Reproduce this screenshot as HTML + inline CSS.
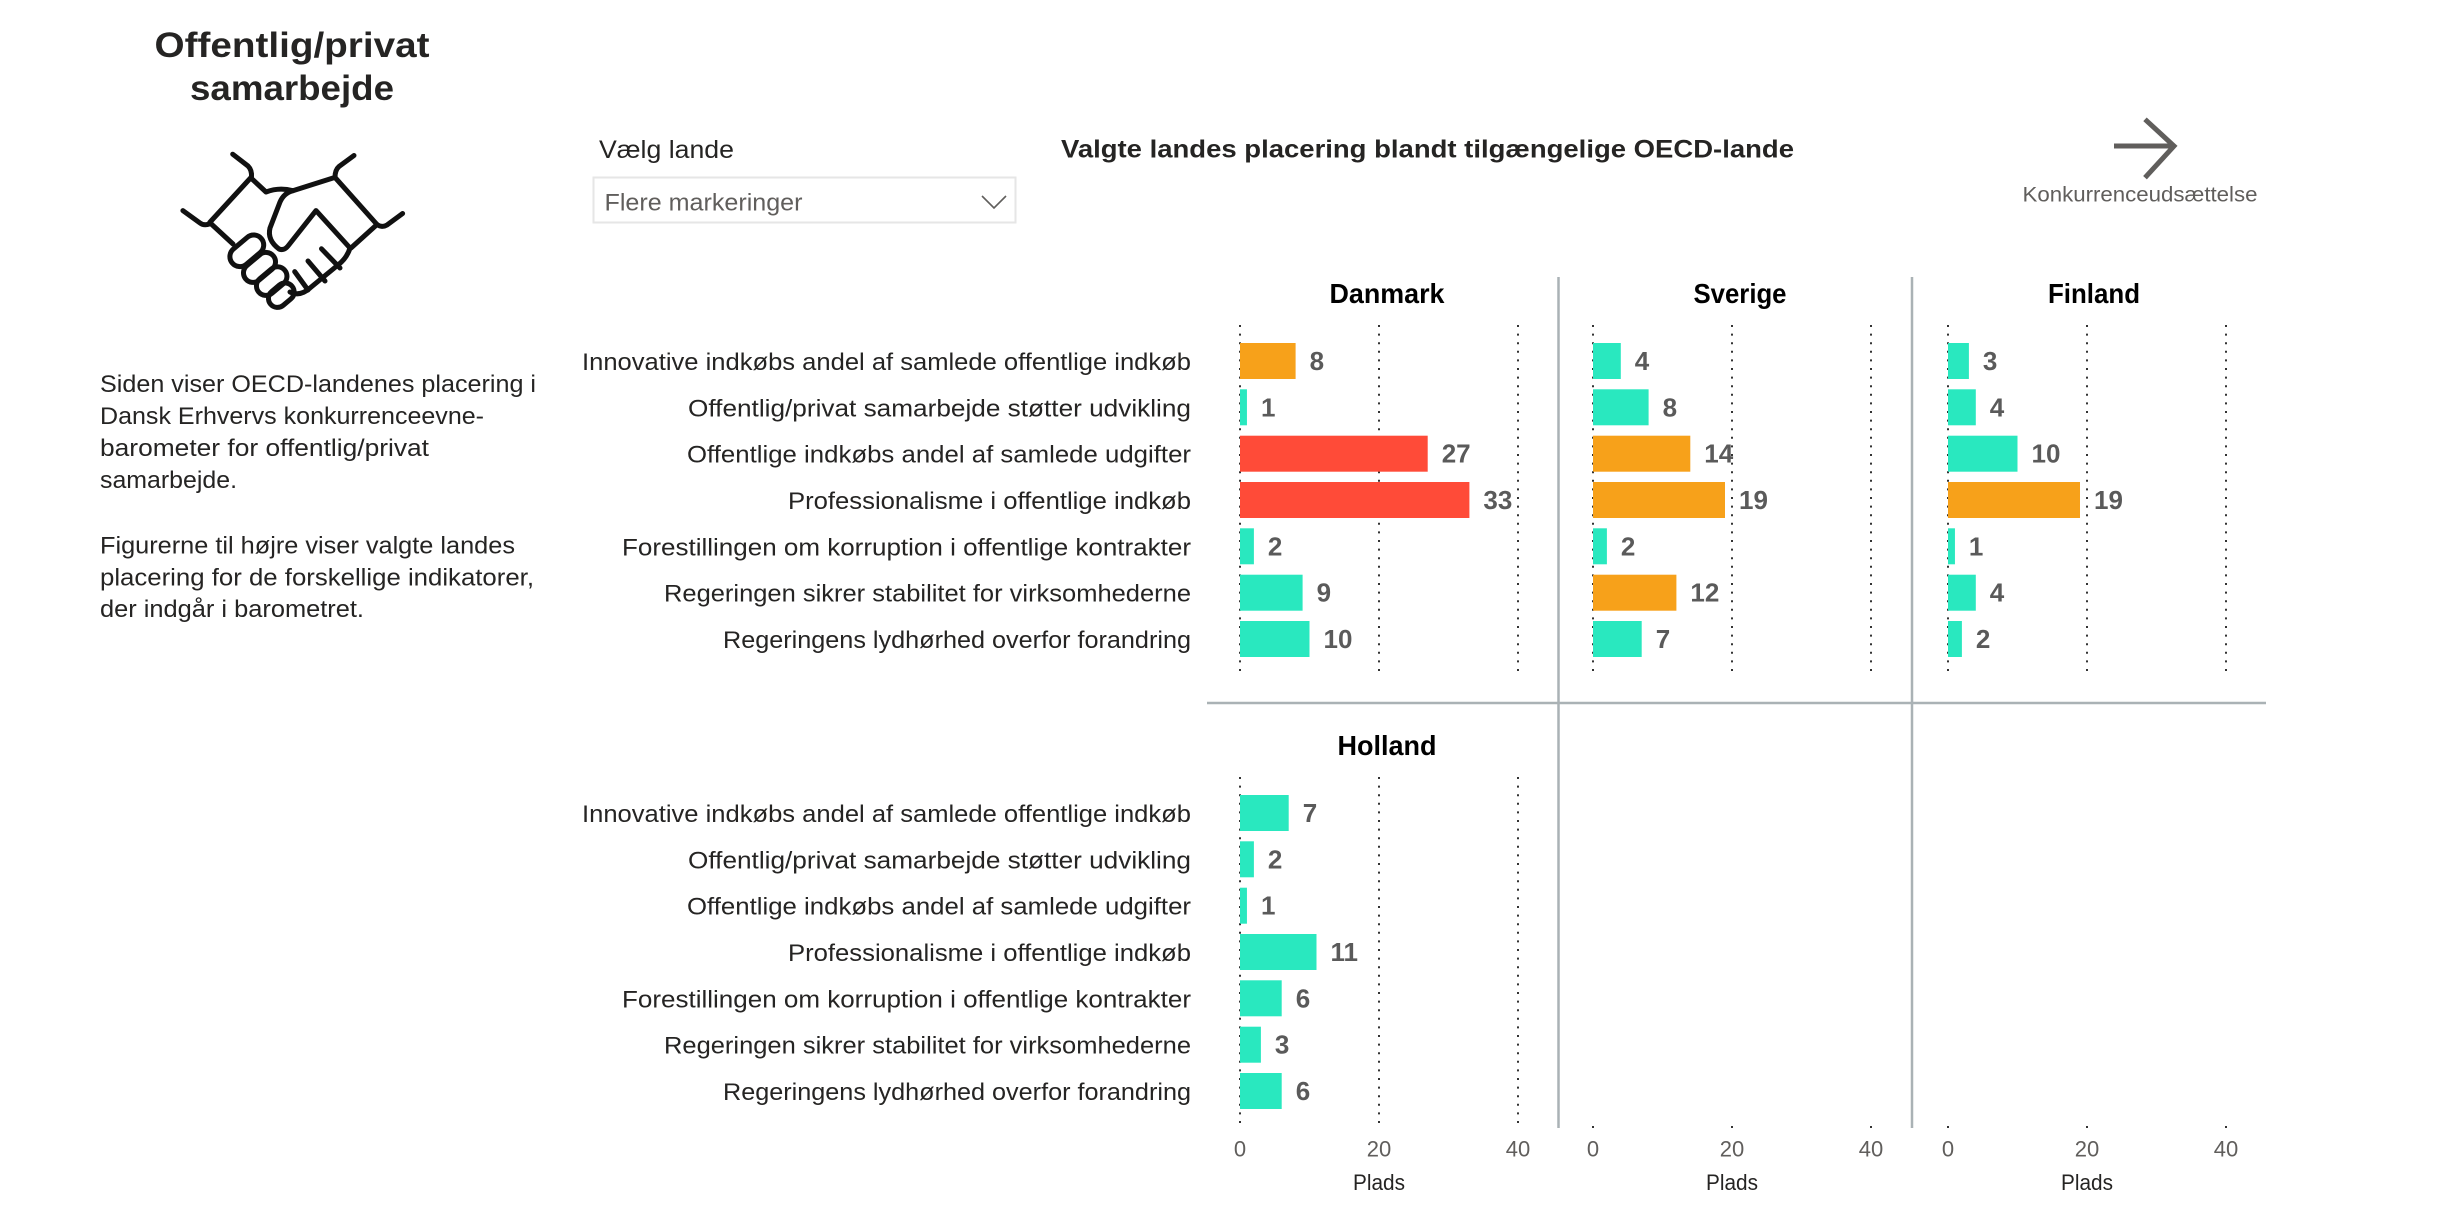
<!DOCTYPE html>
<html><head><meta charset="utf-8"><style>
html,body{margin:0;padding:0;background:#fff;}
body{width:2449px;height:1212px;overflow:hidden;}
svg{display:block;}
</style></head><body>
<svg width="2449" height="1212" viewBox="0 0 2449 1212" xmlns="http://www.w3.org/2000/svg" font-family="'Liberation Sans', Arial, sans-serif">
<rect width="2449" height="1212" fill="#fff"/>

<!-- Left title -->
<text x="292" y="57" font-size="35" font-weight="bold" text-anchor="middle" fill="#252423" textLength="275" lengthAdjust="spacingAndGlyphs">Offentlig/privat</text>
<text x="292" y="100" font-size="35" font-weight="bold" text-anchor="middle" fill="#252423" textLength="204" lengthAdjust="spacingAndGlyphs">samarbejde</text>

<!-- Handshake icon -->
<g fill="none" stroke="#111" stroke-width="5" stroke-linecap="round" stroke-linejoin="round">
  <path d="M232.7,154.2 L248,166 Q252,170 251.5,177"/>
  <path d="M182.9,210.6 L200,223 Q204,226 209.7,223.9"/>
  <path d="M251,177.5 L209.7,222.5 L233,244"/>
  <path d="M354,155.5 L339,166.5 Q335,170 335,177.4"/>
  <path d="M402.6,213.5 L387,225 Q382,228 377,224.5"/>
  <path d="M335,177.4 L377,224.5 L351,248"/>
  <path d="M251,178 L266,192 Q279,187 292.8,190.7 L335,177.4"/>
  <path d="M292.8,190.7 Q284,193 280,202 L270,228 Q267,240 279,249 Q284,251 288,246 L316,210.6 L350,248"/>
  <path d="M350,248 Q347,258 338,265 L310,288 Q300,297 290,292"/>
  <path d="M321.5,248.8 L340,268"/>
  <path d="M308,261 L325,281"/>
  <path d="M294.7,271.6 L308,290"/>
  <rect x="-19" y="-10" width="38" height="20" rx="10" transform="translate(246.8,250.8) rotate(-40)"/>
  <rect x="-18" y="-9.5" width="36" height="19" rx="9.5" transform="translate(259.5,267.4) rotate(-40)"/>
  <rect x="-17" y="-9.5" width="34" height="19" rx="9.5" transform="translate(271.7,281.1) rotate(-40)"/>
  <rect x="-14" y="-9" width="28" height="18" rx="9" transform="translate(281.3,295.2) rotate(-40)"/>
</g>

<!-- Paragraph -->
<g font-size="24" fill="#252423">
  <text x="100" y="392" textLength="436" lengthAdjust="spacingAndGlyphs">Siden viser OECD-landenes placering i</text>
  <text x="100" y="424" textLength="384" lengthAdjust="spacingAndGlyphs">Dansk Erhvervs konkurrenceevne-</text>
  <text x="100" y="456" textLength="329" lengthAdjust="spacingAndGlyphs">barometer for offentlig/privat</text>
  <text x="100" y="488" textLength="137" lengthAdjust="spacingAndGlyphs">samarbejde.</text>
  <text x="100" y="553.5" textLength="415" lengthAdjust="spacingAndGlyphs">Figurerne til højre viser valgte landes</text>
  <text x="100" y="585.5" textLength="434" lengthAdjust="spacingAndGlyphs">placering for de forskellige indikatorer,</text>
  <text x="100" y="617" textLength="264" lengthAdjust="spacingAndGlyphs">der indgår i barometret.</text>
</g>

<!-- Slicer -->
<text x="599" y="158" font-size="25" fill="#252423" textLength="135" lengthAdjust="spacingAndGlyphs">Vælg lande</text>
<rect x="593.5" y="177.5" width="422" height="45" fill="#fff" stroke="#e6e6e6" stroke-width="2"/>
<text x="604.5" y="210.5" font-size="24" fill="#605e5c" textLength="198" lengthAdjust="spacingAndGlyphs">Flere markeringer</text>
<polyline points="982,196 994,208 1006,196" fill="none" stroke="#605e5c" stroke-width="1.6"/>

<!-- Main title -->
<text x="1061" y="157.5" font-size="25" font-weight="bold" fill="#252423" textLength="733" lengthAdjust="spacingAndGlyphs">Valgte landes placering blandt tilgængelige OECD-lande</text>

<!-- Arrow nav -->
<g stroke="#605e5c" stroke-width="5" fill="none" stroke-linecap="butt">
  <line x1="2114" y1="146" x2="2174" y2="146"/>
  <polyline points="2145,119.3 2174,146 2145,177.7"/>
</g>
<text x="2022.5" y="201.5" font-size="21" fill="#605e5c" textLength="235" lengthAdjust="spacingAndGlyphs">Konkurrenceudsættelse</text>

<!-- Dividers -->
<g stroke="#aab2b5" stroke-width="2.5">
  <line x1="1558.5" y1="277" x2="1558.5" y2="1128"/>
  <line x1="1912" y1="277" x2="1912" y2="1128"/>
  <line x1="1207" y1="703" x2="2266" y2="703"/>
</g>

<!-- Gridlines -->
<g stroke="#333" stroke-width="2" stroke-dasharray="2 6.6">
  <line x1="1240" y1="325" x2="1240" y2="674"/>
  <line x1="1379" y1="325" x2="1379" y2="674"/>
  <line x1="1518" y1="325" x2="1518" y2="674"/>
  <line x1="1593" y1="325" x2="1593" y2="674"/>
  <line x1="1732" y1="325" x2="1732" y2="674"/>
  <line x1="1871" y1="325" x2="1871" y2="674"/>
  <line x1="1948" y1="325" x2="1948" y2="674"/>
  <line x1="2087" y1="325" x2="2087" y2="674"/>
  <line x1="2226" y1="325" x2="2226" y2="674"/>
  <line x1="1240" y1="777" x2="1240" y2="1128"/>
  <line x1="1379" y1="777" x2="1379" y2="1128"/>
  <line x1="1518" y1="777" x2="1518" y2="1128"/>
</g>
<g fill="#333">
  <rect x="1592" y="1126" width="2" height="2"/>
  <rect x="1731" y="1126" width="2" height="2"/>
  <rect x="1870" y="1126" width="2" height="2"/>
  <rect x="1947" y="1126" width="2" height="2"/>
  <rect x="2086" y="1126" width="2" height="2"/>
  <rect x="2225" y="1126" width="2" height="2"/>
</g>

<!-- Panel titles -->
<g font-size="28" font-weight="bold" fill="#000" text-anchor="middle">
  <text x="1387" y="303" textLength="115" lengthAdjust="spacingAndGlyphs">Danmark</text>
  <text x="1740" y="303" textLength="93" lengthAdjust="spacingAndGlyphs">Sverige</text>
  <text x="2094" y="303" textLength="92" lengthAdjust="spacingAndGlyphs">Finland</text>
  <text x="1387" y="755" textLength="99" lengthAdjust="spacingAndGlyphs">Holland</text>
</g>

<!-- Category labels -->
<g font-size="24" fill="#252423" text-anchor="end">
  <text x="1191" y="370" textLength="609" lengthAdjust="spacingAndGlyphs">Innovative indkøbs andel af samlede offentlige indkøb</text>
  <text x="1191" y="416.3" textLength="503" lengthAdjust="spacingAndGlyphs">Offentlig/privat samarbejde støtter udvikling</text>
  <text x="1191" y="462.7" textLength="504" lengthAdjust="spacingAndGlyphs">Offentlige indkøbs andel af samlede udgifter</text>
  <text x="1191" y="509" textLength="403" lengthAdjust="spacingAndGlyphs">Professionalisme i offentlige indkøb</text>
  <text x="1191" y="555.3" textLength="569" lengthAdjust="spacingAndGlyphs">Forestillingen om korruption i offentlige kontrakter</text>
  <text x="1191" y="601.7" textLength="527" lengthAdjust="spacingAndGlyphs">Regeringen sikrer stabilitet for virksomhederne</text>
  <text x="1191" y="648" textLength="468" lengthAdjust="spacingAndGlyphs">Regeringens lydhørhed overfor forandring</text>
  <text x="1191" y="822" textLength="609" lengthAdjust="spacingAndGlyphs">Innovative indkøbs andel af samlede offentlige indkøb</text>
  <text x="1191" y="868.3" textLength="503" lengthAdjust="spacingAndGlyphs">Offentlig/privat samarbejde støtter udvikling</text>
  <text x="1191" y="914.7" textLength="504" lengthAdjust="spacingAndGlyphs">Offentlige indkøbs andel af samlede udgifter</text>
  <text x="1191" y="961" textLength="403" lengthAdjust="spacingAndGlyphs">Professionalisme i offentlige indkøb</text>
  <text x="1191" y="1007.3" textLength="569" lengthAdjust="spacingAndGlyphs">Forestillingen om korruption i offentlige kontrakter</text>
  <text x="1191" y="1053.7" textLength="527" lengthAdjust="spacingAndGlyphs">Regeringen sikrer stabilitet for virksomhederne</text>
  <text x="1191" y="1100" textLength="468" lengthAdjust="spacingAndGlyphs">Regeringens lydhørhed overfor forandring</text>
</g>

<!-- Bars: Danmark -->
<g>
  <rect x="1240" y="343" width="55.6" height="36" fill="#F7A11A"/>
  <rect x="1240" y="389.3" width="6.95" height="36" fill="#29E8BF"/>
  <rect x="1240" y="435.7" width="187.7" height="36" fill="#FF4B38"/>
  <rect x="1240" y="482" width="229.4" height="36" fill="#FF4B38"/>
  <rect x="1240" y="528.3" width="13.9" height="36" fill="#29E8BF"/>
  <rect x="1240" y="574.7" width="62.6" height="36" fill="#29E8BF"/>
  <rect x="1240" y="621" width="69.5" height="36" fill="#29E8BF"/>
</g>
<!-- Bars: Sverige -->
<g>
  <rect x="1593" y="343" width="27.8" height="36" fill="#29E8BF"/>
  <rect x="1593" y="389.3" width="55.6" height="36" fill="#29E8BF"/>
  <rect x="1593" y="435.7" width="97.3" height="36" fill="#F7A11A"/>
  <rect x="1593" y="482" width="132" height="36" fill="#F7A11A"/>
  <rect x="1593" y="528.3" width="13.9" height="36" fill="#29E8BF"/>
  <rect x="1593" y="574.7" width="83.4" height="36" fill="#F7A11A"/>
  <rect x="1593" y="621" width="48.7" height="36" fill="#29E8BF"/>
</g>
<!-- Bars: Finland -->
<g>
  <rect x="1948" y="343" width="20.9" height="36" fill="#29E8BF"/>
  <rect x="1948" y="389.3" width="27.8" height="36" fill="#29E8BF"/>
  <rect x="1948" y="435.7" width="69.5" height="36" fill="#29E8BF"/>
  <rect x="1948" y="482" width="132" height="36" fill="#F7A11A"/>
  <rect x="1948" y="528.3" width="6.95" height="36" fill="#29E8BF"/>
  <rect x="1948" y="574.7" width="27.8" height="36" fill="#29E8BF"/>
  <rect x="1948" y="621" width="13.9" height="36" fill="#29E8BF"/>
</g>
<!-- Bars: Holland -->
<g fill="#29E8BF">
  <rect x="1240" y="795" width="48.7" height="36"/>
  <rect x="1240" y="841.3" width="13.9" height="36"/>
  <rect x="1240" y="887.7" width="6.95" height="36"/>
  <rect x="1240" y="934" width="76.5" height="36"/>
  <rect x="1240" y="980.3" width="41.7" height="36"/>
  <rect x="1240" y="1026.7" width="20.9" height="36"/>
  <rect x="1240" y="1073" width="41.7" height="36"/>
</g>

<!-- Value labels -->
<g font-size="26" font-weight="bold" fill="#5a5a5a">
  <text x="1309.6" y="370">8</text>
  <text x="1261" y="416.3">1</text>
  <text x="1441.7" y="462.7">27</text>
  <text x="1483.4" y="509">33</text>
  <text x="1267.9" y="555.3">2</text>
  <text x="1316.6" y="601.7">9</text>
  <text x="1323.5" y="648">10</text>

  <text x="1634.8" y="370">4</text>
  <text x="1662.6" y="416.3">8</text>
  <text x="1704.3" y="462.7">14</text>
  <text x="1739" y="509">19</text>
  <text x="1620.9" y="555.3">2</text>
  <text x="1690.4" y="601.7">12</text>
  <text x="1655.7" y="648">7</text>

  <text x="1982.9" y="370">3</text>
  <text x="1989.8" y="416.3">4</text>
  <text x="2031.5" y="462.7">10</text>
  <text x="2094" y="509">19</text>
  <text x="1968.9" y="555.3">1</text>
  <text x="1989.8" y="601.7">4</text>
  <text x="1975.9" y="648">2</text>

  <text x="1302.7" y="822">7</text>
  <text x="1267.9" y="868.3">2</text>
  <text x="1261" y="914.7">1</text>
  <text x="1330.5" y="961">11</text>
  <text x="1295.7" y="1007.3">6</text>
  <text x="1274.9" y="1053.7">3</text>
  <text x="1295.7" y="1100">6</text>
</g>

<!-- Axis ticks -->
<g font-size="22" fill="#605e5c" text-anchor="middle">
  <text x="1240" y="1156.5">0</text>
  <text x="1379" y="1156.5">20</text>
  <text x="1518" y="1156.5">40</text>
  <text x="1593" y="1156.5">0</text>
  <text x="1732" y="1156.5">20</text>
  <text x="1871" y="1156.5">40</text>
  <text x="1948" y="1156.5">0</text>
  <text x="2087" y="1156.5">20</text>
  <text x="2226" y="1156.5">40</text>
</g>
<g font-size="22" fill="#252423" text-anchor="middle">
  <text x="1379" y="1190" textLength="52" lengthAdjust="spacingAndGlyphs">Plads</text>
  <text x="1732" y="1190" textLength="52" lengthAdjust="spacingAndGlyphs">Plads</text>
  <text x="2087" y="1190" textLength="52" lengthAdjust="spacingAndGlyphs">Plads</text>
</g>
</svg>
</body></html>
